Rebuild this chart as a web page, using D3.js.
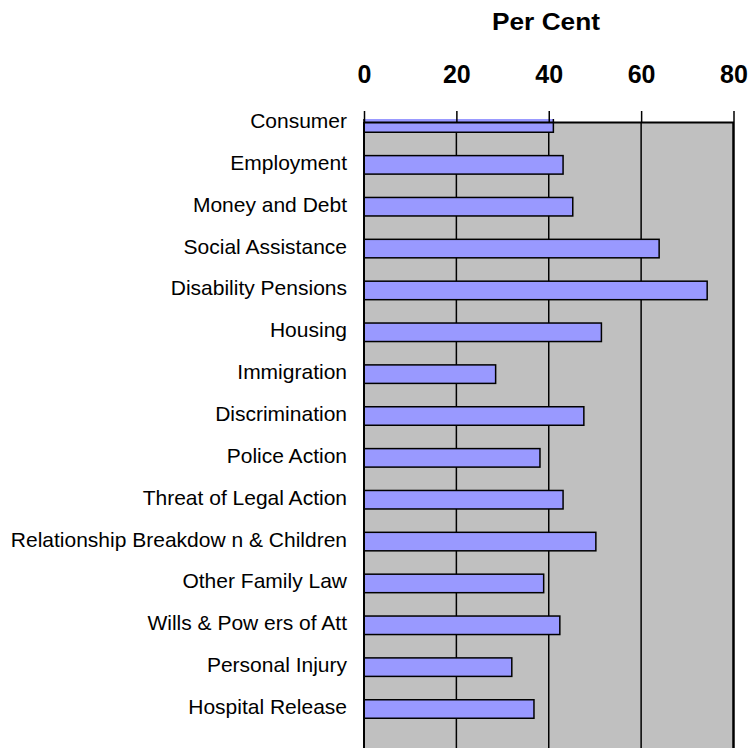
<!DOCTYPE html>
<html>
<head>
<meta charset="utf-8">
<script src="https://cdn.jsdelivr.net/npm/d3@7"></script>
<style>
  body { margin: 0; background: #fff; }
  svg { display: block; font-family: "Liberation Sans", Arial, sans-serif; }
</style>
</head>
<body>
<svg id="chart"></svg>
<script>
const categories = [
  "Consumer", "Employment", "Money and Debt", "Social Assistance",
  "Disability Pensions", "Housing", "Immigration", "Discrimination",
  "Police Action", "Threat of Legal Action", "Relationship Breakdow n & Children",
  "Other Family Law", "Wills & Pow ers of Att", "Personal Injury", "Hospital Release"
];
const perCent = [41.0, 43.1, 45.2, 63.9, 74.3, 51.4, 28.5, 47.6, 38.1, 43.1, 50.2, 38.9, 42.4, 32.0, 36.8];
const tickValues = [0, 20, 40, 60, 80];
const axisTitle = "Per Cent";

const width = 753, height = 748;
const plotTop = 122, plotBottom = 760;

const svg = d3.select("#chart")
  .attr("width", width)
  .attr("height", height);

const x = d3.scaleLinear().domain([0, 80]).range([364, 733.5]);
const y = d3.scalePoint().domain(categories).range([123, 709]);
const barH = 18.5;

// plot background
svg.append("rect")
  .attr("x", x(0))
  .attr("y", plotTop)
  .attr("width", x(80) - x(0))
  .attr("height", plotBottom - plotTop)
  .attr("fill", "#C0C0C0");

// gridlines
svg.append("g")
  .selectAll("line")
  .data(tickValues.slice(1, -1))
  .join("line")
  .attr("x1", d => x(d))
  .attr("x2", d => x(d))
  .attr("y1", plotTop)
  .attr("y2", plotBottom)
  .attr("stroke", "#000")
  .attr("stroke-width", 1.5);

// bars, clipped just above the plot top
svg.append("clipPath")
  .attr("id", "plotClip")
  .append("rect")
  .attr("x", 0)
  .attr("y", 119)
  .attr("width", width)
  .attr("height", height);

svg.append("g")
  .attr("clip-path", "url(#plotClip)")
  .selectAll("rect")
  .data(categories)
  .join("rect")
  .attr("x", x(0))
  .attr("y", d => y(d) - barH / 2)
  .attr("width", (d, i) => x(perCent[i]) - x(0))
  .attr("height", barH)
  .attr("fill", "#9999FF")
  .attr("stroke", "#000")
  .attr("stroke-width", 1.5);

// right border
svg.append("line")
  .attr("x1", x(80)).attr("x2", x(80))
  .attr("y1", plotTop).attr("y2", plotBottom)
  .attr("stroke", "#000")
  .attr("stroke-width", 2.5);

// left axis
svg.append("line")
  .attr("x1", x(0)).attr("x2", x(0))
  .attr("y1", plotTop).attr("y2", plotBottom)
  .attr("stroke", "#000")
  .attr("stroke-width", 2);

// top axis
const axis = svg.append("g")
  .attr("transform", `translate(0,${plotTop})`)
  .call(d3.axisTop(x).tickValues(tickValues).tickSize(11).tickSizeOuter(0).tickPadding(28));

axis.select(".domain").attr("stroke", "#000").attr("stroke-width", 2);
axis.selectAll(".tick line").attr("stroke", "#000").attr("stroke-width", 1.5);
axis.selectAll(".tick text")
  .attr("fill", "#000")
  .attr("font-family", "'Liberation Sans', Arial, sans-serif")
  .attr("font-size", 25)
  .attr("font-weight", "bold");

// axis title
svg.append("text")
  .attr("x", 546)
  .attr("y", 30)
  .attr("text-anchor", "middle")
  .attr("font-size", 23)
  .attr("font-weight", "bold")
  .attr("textLength", 108)
  .attr("lengthAdjust", "spacingAndGlyphs")
  .attr("fill", "#000")
  .text(axisTitle);

// category labels
svg.append("g")
  .selectAll("text")
  .data(categories)
  .join("text")
  .attr("x", 347)
  .attr("y", d => y(d) + 5)
  .attr("text-anchor", "end")
  .attr("font-size", 21)
  .attr("fill", "#000")
  .text(d => d);
</script>
</body>
</html>
